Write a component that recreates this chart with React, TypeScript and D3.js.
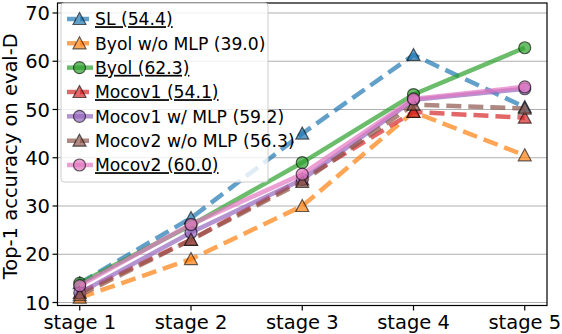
import React from 'react';
import * as d3 from 'd3';

const stages = ['stage 1', 'stage 2', 'stage 3', 'stage 4', 'stage 5'];
const yTicks = [10, 20, 30, 40, 50, 60, 70];

const slValues = [14, 27.5, 45, 61.3, 50.5];
const byolNoMlpValues = [11, 19, 30, 49.5, 40.5];
const byolValues = [14, 26, 39, 53.1, 62.8];
const mocov1Values = [12, 23, 35.5, 49.5, 48.3];
const mocov1MlpValues = [12, 24.5, 35.5, 52, 54.3];
const mocov2NoMlpValues = [11.5, 23, 35, 51, 50.2];
const mocov2Values = [13.5, 26.2, 36.6, 52.2, 54.7];

const seriesNames = [
  'SL (54.4)',
  'Byol w/o MLP (39.0)',
  'Byol (62.3)',
  'Mocov1 (54.1)',
  'Mocov1 w/ MLP (59.2)',
  'Mocov2 w/o MLP (56.3)',
  'Mocov2 (60.0)',
];
const underlined = [true, false, true, true, false, false, true];

const series = [
  { values: slValues, color: '#1f77b4', dashed: true, marker: 'tri' },
  { values: byolNoMlpValues, color: '#ff7f0e', dashed: true, marker: 'tri' },
  { values: byolValues, color: '#2ca02c', dashed: false, marker: 'circ' },
  { values: mocov1Values, color: '#d62728', dashed: true, marker: 'tri' },
  { values: mocov1MlpValues, color: '#9467bd', dashed: false, marker: 'circ' },
  { values: mocov2NoMlpValues, color: '#8c564b', dashed: true, marker: 'tri' },
  { values: mocov2Values, color: '#e377c2', dashed: false, marker: 'circ' },
];

const W = 562;
const H = 334;
const left = 57.5;
const right = 547;
const top = 3;
const bottom = 305.5;
const font = 'DejaVu Sans, sans-serif';

const Marker = ({ kind, cx, cy, color }: { kind: string; cx: number; cy: number; color: string }) => {
  const r = 6;
  if (kind === 'circ') {
    return (
      <circle cx={cx} cy={cy} r={r} fill={color} fillOpacity={0.7}
        stroke="#000" strokeOpacity={0.6} strokeWidth={1.2} />
    );
  }
  const p = `M${cx},${cy - r - 0.5}L${cx - r - 0.5},${cy + r - 0.5}L${cx + r + 0.5},${cy + r - 0.5}Z`;
  return (
    <path d={p} fill={color} fillOpacity={0.7} stroke="#000" strokeOpacity={0.6}
      strokeWidth={1.2} strokeLinejoin="miter" />
  );
};

const App = () => {
  const x = d3.scaleLinear().domain([-0.2, 4.2]).range([left, right]);
  const y = d3.scaleLinear().domain([9.38, 72.07]).range([bottom, top]);
  const line = d3.line<number>().x((_, i) => x(i)).y(d => y(d));

  const legX = 61;
  const legY = 3;
  const rowH = 24.33;

  return (
    <svg width={W} height={H} style={{ position: 'absolute', left: 0, top: 0 }}
      fontFamily={font}>
      <rect width={W} height={H} fill="#fff" />
      {yTicks.map(t => (
        <line key={t} x1={left} x2={right} y1={y(t)} y2={y(t)} stroke="#b0b0b0" strokeWidth={1} />
      ))}
      {series.map((s, si) => (
        <g key={si}>
          <path d={line(s.values) || ''} fill="none" stroke={s.color} strokeOpacity={0.7}
            strokeWidth={4.5} strokeDasharray={s.dashed ? '15,7' : undefined} />
          {s.values.map((v, i) => (
            <Marker key={i} kind={s.marker} cx={x(i)} cy={y(v)} color={s.color} />
          ))}
        </g>
      ))}
      <rect x={left} y={top} width={right - left} height={bottom - top} fill="none" stroke="#000" strokeWidth={1.2} />
      {yTicks.map(t => (
        <g key={t}>
          <line x1={left - 5} x2={left} y1={y(t)} y2={y(t)} stroke="#000" strokeWidth={1.2} />
          <text x={left - 7.5} y={y(t)} dy="0.36em" textAnchor="end" fontSize={19.5}>{t}</text>
        </g>
      ))}
      {stages.map((s, i) => (
        <g key={s}>
          <line x1={x(i)} x2={x(i)} y1={bottom} y2={bottom + 5} stroke="#000" strokeWidth={1.2} />
          <text x={x(i)} y={329} textAnchor="middle" fontSize={19.5}>{s}</text>
        </g>
      ))}
      <text transform={`translate(10.5,${(top + bottom) / 2 + 2}) rotate(-90)`} textAnchor="middle"
        fontSize={19.5} dy="0.35em">Top-1 accuracy on eval-D</text>
      <g>
        <rect x={legX} y={legY} width={207} height={179} rx={3} fill="#fff" fillOpacity={0.8}
          stroke="#cccccc" strokeWidth={1} />
        {series.map((s, i) => {
          const cy = legY + 16 + i * rowH;
          return (
            <g key={i}>
              <line x1={legX + 6} x2={legX + 32} y1={cy} y2={cy} stroke={s.color} strokeOpacity={0.7}
                strokeWidth={4.5} strokeDasharray={s.dashed ? '9,4' : undefined} />
              <Marker kind={s.marker} cx={legX + 18.5} cy={cy} color={s.color} />
              <text x={legX + 34} y={cy} dy="0.36em" fontSize={17.2}
                textDecoration={underlined[i] ? 'underline' : undefined}
                style={{ textDecorationThickness: '1.6px' }}>{seriesNames[i]}</text>
            </g>
          );
        })}
      </g>
    </svg>
  );
};

export default App;
